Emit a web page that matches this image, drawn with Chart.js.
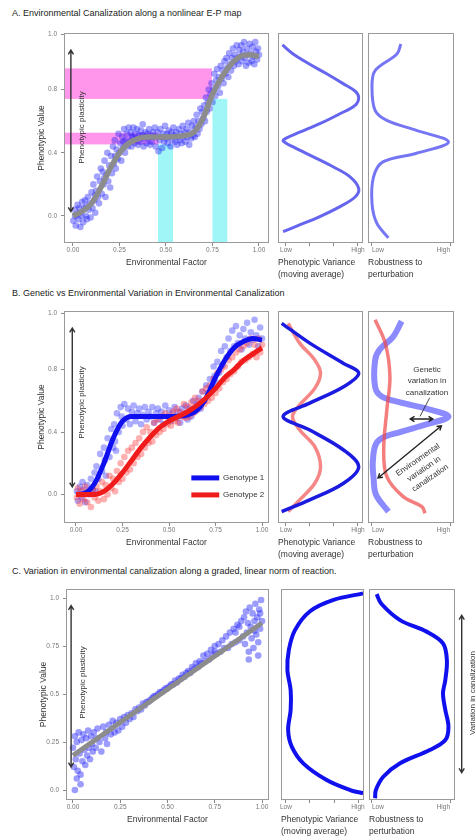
<!DOCTYPE html>
<html>
<head>
<meta charset="utf-8">
<script src="https://cdn.jsdelivr.net/npm/chart.js@4.4.1/dist/chart.umd.min.js"></script>
<style>
body { margin: 0; background: #fff; width: 476px; height: 837px; position: relative; overflow: hidden; font-family: "Liberation Sans", Arial, sans-serif; }
.ttl { position: absolute; left: 12px; font-size: 9px; line-height: 10px; color: #222; white-space: nowrap; }
canvas { position: absolute; }
</style>
</head>
<body>
<div class="ttl" style="top:8px">A. Environmental Canalization along a nonlinear E-P map</div>
<div class="ttl" style="top:288px">B. Genetic vs Environmental Variation in Environmental Canalization</div>
<div class="ttl" style="top:566px">C. Variation in environmental canalization along a graded, linear norm of reaction.</div>
<script>
// ---- data ----
const xTicksMain = [0, 0.25, 0.5, 0.75, 1];
const xLabelsMain = ['0.00', '0.25', '0.50', '0.75', '1.00'];
const yTicksA = [0, 0.4, 0.8, 1.15];
const yTicksB = [0, 0.4, 0.8, 1.163];
const yLabelsAB = ['0.0', '0.4', '0.8', '1.0'];
const yTicksC = [0, 0.25, 0.5, 0.75, 1];
const yLabelsC = ['0.0', '0.25', '0.5', '0.75', '1.0'];
const varTicks = [0, 1 / 3, 2 / 3, 1];
const varLabels = ['Low', '', '', 'High'];
const robTicks = [0, 1];
const robLabels = ['Low', 'High'];

// panel A
const curveA = [[0,0],[0.05,0.03],[0.1,0.08],[0.15,0.18],[0.2,0.3],[0.25,0.4],[0.3,0.46],[0.35,0.49],[0.4,0.5],[0.5,0.5],[0.6,0.51],[0.65,0.53],[0.7,0.62],[0.75,0.77],[0.8,0.88],[0.85,0.96],[0.9,1.01],[0.95,1.02],[1.0,1.01]];
const cloudA = [[0.002,-0.03],[0.01,0.04],[0.015,-0.06],[0.02,0.01],[0.025,0.07],[0.03,-0.02],[0.035,0.05],[0.04,-0.07],[0.045,0.0],[0.05,0.09],[0.012,0.0],[0.038,0.02],
 [0.055,-0.04],[0.06,0.05],[0.065,0.1],[0.07,0.0],[0.075,-0.02],[0.08,0.12],[0.085,0.04],[0.09,0.08],[0.095,-0.01],[0.1,0.15],[0.072,0.06],
 [0.105,0.05],[0.11,0.2],[0.115,0.1],[0.12,0.02],[0.125,0.16],[0.13,0.25],[0.135,0.12],[0.14,0.08],[0.145,0.22],[0.15,0.3],[0.118,0.13],
 [0.155,0.14],[0.16,0.28],[0.165,0.2],[0.17,0.35],[0.175,0.12],[0.18,0.26],[0.185,0.4],[0.19,0.22],[0.195,0.32],[0.2,0.18],[0.168,0.24],
 [0.205,0.38],[0.21,0.27],[0.215,0.44],[0.22,0.33],[0.225,0.48],[0.23,0.3],[0.235,0.42],[0.24,0.36],[0.245,0.52],[0.25,0.4],[0.228,0.38],
 [0.255,0.46],[0.26,0.35],[0.265,0.5],[0.27,0.43],[0.275,0.55],[0.28,0.4],[0.285,0.48],[0.29,0.52],[0.295,0.44],[0.3,0.56],[0.272,0.47],
 [0.305,0.47],[0.31,0.53],[0.315,0.44],[0.32,0.5],[0.325,0.56],[0.33,0.46],[0.335,0.52],[0.34,0.49],[0.345,0.55],[0.35,0.45],[0.318,0.5],
 [0.355,0.51],[0.36,0.47],[0.365,0.54],[0.37,0.49],[0.375,0.58],[0.38,0.44],[0.385,0.5],[0.39,0.53],[0.395,0.46],[0.4,0.52],[0.372,0.51],
 [0.405,0.49],[0.41,0.55],[0.415,0.45],[0.42,0.51],[0.425,0.47],[0.43,0.53],[0.435,0.5],[0.44,0.56],[0.445,0.44],[0.45,0.5],
 [0.455,0.53],[0.46,0.41],[0.465,0.48],[0.47,0.55],[0.475,0.5],[0.48,0.43],[0.485,0.52],[0.49,0.47],[0.495,0.57],[0.5,0.49],
 [0.505,0.52],[0.51,0.46],[0.515,0.54],[0.52,0.5],[0.525,0.44],[0.53,0.53],[0.535,0.48],[0.54,0.56],[0.545,0.51],[0.55,0.47],
 [0.555,0.53],[0.56,0.45],[0.565,0.5],[0.57,0.55],[0.575,0.48],[0.58,0.52],[0.585,0.46],[0.59,0.57],[0.595,0.5],[0.6,0.53],
 [0.605,0.47],[0.61,0.55],[0.615,0.5],[0.62,0.59],[0.625,0.45],[0.63,0.53],[0.635,0.49],[0.64,0.57],[0.645,0.51],[0.65,0.6],
 [0.655,0.5],[0.66,0.56],[0.665,0.64],[0.67,0.52],[0.675,0.6],[0.68,0.55],[0.685,0.68],[0.69,0.58],[0.695,0.66],[0.7,0.62],
 [0.705,0.7],[0.71,0.6],[0.715,0.75],[0.72,0.66],[0.725,0.72],[0.73,0.8],[0.735,0.68],[0.74,0.77],[0.745,0.84],[0.75,0.72],
 [0.755,0.8],[0.76,0.9],[0.765,0.76],[0.77,0.86],[0.775,0.93],[0.78,0.82],[0.785,0.88],[0.79,0.78],[0.795,0.95],[0.8,0.87],
 [0.805,0.92],[0.81,0.84],[0.815,0.98],[0.82,0.9],[0.825,1.0],[0.83,0.94],[0.835,0.88],[0.84,1.03],[0.845,0.96],[0.85,0.92],
 [0.855,1.0],[0.86,1.06],[0.865,0.95],[0.87,1.02],[0.875,0.98],[0.88,1.08],[0.885,1.0],[0.89,0.96],[0.895,1.05],[0.9,1.01],
 [0.905,1.08],[0.91,0.98],[0.915,1.04],[0.92,1.1],[0.925,1.0],[0.93,0.95],[0.935,1.06],[0.94,1.02],[0.945,0.97],[0.95,1.09],
 [0.955,1.03],[0.96,0.98],[0.965,1.07],[0.97,1.01],[0.975,0.96],[0.98,1.1],[0.985,1.04],[0.99,0.99],[0.995,1.06],[1.0,1.02]];
const varA = [[-0.05,1.083],[0.1,1.025],[0.33,0.96],[0.565,0.9],[0.8,0.836],[0.96,0.79],[1.01,0.75],[0.96,0.7],[0.75,0.647],[0.47,0.584],[0.19,0.53],[-0.01,0.49],[-0.04,0.474],[0.1,0.437],[0.38,0.374],[0.66,0.31],[0.89,0.248],[1.01,0.175],[0.96,0.12],[0.75,0.059],[0.47,-0.004],[0.19,-0.057],[-0.04,-0.099]];
const robA = [[0.37,1.088],[0.32,1.025],[0.04,0.92],[0.0,0.815],[0.04,0.668],[0.19,0.605],[0.57,0.542],[0.98,0.468],[0.57,0.397],[0.14,0.342],[0.02,0.248],[0.0,0.082],[0.06,-0.044],[0.21,-0.139]];
// shaded bands in panel A: [x from, x to, y from, y to]
const pinkBandsA = [[-0.05, 0.747, 0.741, 0.934], [-0.05, 0.46, 0.453, 0.527]];
const cyanBandsA = [[0.457, 0.538, -0.2, 0.453], [0.75, 0.83, -0.2, 0.741]];

// panel B
const curveB1 = [[0,0],[0.05,0.01],[0.1,0.07],[0.15,0.2],[0.2,0.36],[0.25,0.47],[0.3,0.5],[0.4,0.5],[0.5,0.5],[0.6,0.51],[0.65,0.54],[0.7,0.62],[0.75,0.75],[0.8,0.86],[0.85,0.94],[0.9,0.98],[0.95,1.0],[1.0,0.99]];
const curveB2 = [[0,0],[0.1,0.0],[0.15,0.02],[0.2,0.07],[0.25,0.14],[0.3,0.22],[0.35,0.3],[0.4,0.37],[0.45,0.43],[0.5,0.47],[0.55,0.5],[0.6,0.53],[0.65,0.57],[0.7,0.62],[0.75,0.68],[0.8,0.75],[0.85,0.8],[0.9,0.86],[0.95,0.9],[1.0,0.94]];
const cloudB1 = [[0.005,0.02],[0.01,-0.04],[0.02,0.05],[0.03,-0.02],[0.04,0.03],[0.05,-0.05],[0.06,0.06],[0.07,0.0],[0.08,0.1],[0.09,0.03],[0.1,0.14],[0.035,0.08],
 [0.105,0.02],[0.11,0.18],[0.12,0.1],[0.13,0.26],[0.14,0.15],[0.15,0.3],[0.16,0.12],[0.17,0.36],[0.18,0.24],[0.19,0.42],[0.2,0.3],[0.155,0.22],
 [0.205,0.45],[0.21,0.34],[0.22,0.52],[0.23,0.4],[0.24,0.56],[0.25,0.44],[0.26,0.58],[0.27,0.48],[0.28,0.55],[0.29,0.45],[0.3,0.53],[0.215,0.28],[0.245,0.5],
 [0.31,0.57],[0.32,0.47],[0.33,0.52],[0.34,0.55],[0.35,0.45],[0.36,0.51],[0.37,0.56],[0.38,0.48],[0.39,0.53],[0.4,0.5],
 [0.41,0.56],[0.42,0.46],[0.43,0.52],[0.44,0.55],[0.45,0.48],[0.46,0.53],[0.47,0.45],[0.48,0.57],[0.49,0.5],[0.5,0.54],
 [0.51,0.47],[0.52,0.52],[0.53,0.56],[0.54,0.49],[0.55,0.53],[0.56,0.46],[0.57,0.55],[0.58,0.5],[0.59,0.57],[0.6,0.48],
 [0.61,0.55],[0.62,0.5],[0.63,0.6],[0.64,0.53],[0.65,0.58],[0.66,0.62],[0.67,0.55],[0.68,0.66],[0.69,0.6],[0.7,0.7],
 [0.71,0.65],[0.72,0.74],[0.73,0.68],[0.74,0.82],[0.75,0.72],[0.76,0.85],[0.77,0.78],[0.78,0.92],[0.79,0.83],[0.8,0.95],[0.745,0.76],
 [0.81,0.88],[0.82,1.0],[0.83,0.92],[0.84,1.05],[0.85,0.95],[0.86,1.08],[0.87,0.97],[0.88,1.02],[0.89,0.93],[0.9,1.06],
 [0.91,1.0],[0.92,1.1],[0.93,0.96],[0.94,1.04],[0.95,0.99],[0.96,1.12],[0.97,1.02],[0.98,0.95],[0.99,1.07],[1.0,1.0]];
const cloudB2 = [[0.005,-0.02],[0.01,0.04],[0.02,-0.06],[0.03,0.02],[0.04,-0.03],[0.05,0.05],[0.06,-0.05],[0.07,0.01],[0.08,-0.08],[0.09,0.03],[0.1,-0.02],
 [0.11,0.05],[0.12,-0.04],[0.13,0.02],[0.14,0.08],[0.15,-0.03],[0.16,0.06],[0.17,0.0],[0.18,0.12],[0.19,0.04],[0.2,0.1],
 [0.21,0.02],[0.22,0.15],[0.23,0.08],[0.24,0.2],[0.25,0.1],[0.26,0.24],[0.27,0.14],[0.28,0.28],[0.29,0.16],[0.3,0.3],
 [0.31,0.2],[0.32,0.33],[0.33,0.24],[0.34,0.36],[0.35,0.26],[0.36,0.4],[0.37,0.3],[0.38,0.43],[0.39,0.33],[0.4,0.4],
 [0.41,0.34],[0.42,0.46],[0.43,0.38],[0.44,0.48],[0.45,0.4],[0.46,0.5],[0.47,0.42],[0.48,0.52],[0.49,0.45],[0.5,0.5],
 [0.51,0.44],[0.52,0.53],[0.53,0.47],[0.54,0.55],[0.55,0.46],[0.56,0.53],[0.57,0.5],[0.58,0.58],[0.59,0.49],[0.6,0.56],
 [0.61,0.5],[0.62,0.59],[0.63,0.52],[0.64,0.62],[0.65,0.54],[0.66,0.6],[0.67,0.56],[0.68,0.66],[0.69,0.58],[0.7,0.68],
 [0.71,0.6],[0.72,0.7],[0.73,0.62],[0.74,0.74],[0.75,0.65],[0.76,0.78],[0.77,0.68],[0.78,0.8],[0.79,0.72],[0.8,0.82],
 [0.81,0.74],[0.82,0.86],[0.83,0.77],[0.84,0.88],[0.85,0.79],[0.86,0.91],[0.87,0.82],[0.88,0.93],[0.89,0.85],[0.9,0.95],
 [0.91,0.86],[0.92,0.97],[0.93,0.88],[0.94,1.0],[0.95,0.9],[0.96,0.96],[0.97,0.88],[0.98,1.0],[0.99,0.91],[1.0,0.96]];
const varB1 = [[-0.06,1.097],[0.33,0.97],[0.8,0.84],[1.01,0.777],[0.8,0.69],[0.33,0.585],[-0.04,0.499],[0.33,0.413],[0.8,0.285],[1.01,0.178],[0.8,0.072],[0.33,-0.035],[-0.06,-0.11]];
const varB2 = [[0.03,1.097],[0.19,0.97],[0.4,0.862],[0.48,0.777],[0.4,0.68],[0.19,0.574],[0.09,0.499],[0.19,0.413],[0.4,0.306],[0.48,0.178],[0.4,0.072],[0.19,-0.035],[0.03,-0.11]];
const robB1 = [[0.38,1.11],[0.27,1.01],[0.1,0.93],[0.04,0.86],[0.04,0.69],[0.12,0.63],[0.36,0.59],[0.7,0.55],[0.98,0.5],[0.7,0.45],[0.36,0.4],[0.12,0.36],[0.04,0.31],[0.01,0.2],[0.02,0.11],[0.05,0.0],[0.21,-0.11]];
const robB2 = [[0.04,1.12],[0.17,0.97],[0.23,0.755],[0.19,0.54],[0.15,0.285],[0.19,0.114],[0.4,-0.014],[0.64,-0.078],[0.68,-0.12]];
const legendB = ['Genotype 1', 'Genotype 2'];

// panel C
const curveC = [[0, 0.18], [1, 0.87]];
const cloudC = [[0.0,0.22],[0.005,0.12],[0.01,0.28],[0.015,0.16],[0.02,0.25],[0.025,0.1],[0.03,0.3],[0.035,0.19],[0.04,0.08],[0.045,0.26],[0.05,0.15],[0.055,0.29],[0.06,0.21],[0.065,0.13],[0.07,0.27],[0.075,0.18],[0.08,0.31],[0.085,0.22],[0.09,0.16],[0.095,0.28],[0.1,0.24],[0.01,0.0],[0.04,0.03],[0.02,0.06],
 [0.105,0.2],[0.11,0.3],[0.12,0.22],[0.13,0.32],[0.14,0.25],[0.15,0.2],[0.16,0.33],[0.17,0.27],[0.18,0.24],[0.19,0.34],[0.2,0.29],[0.125,0.27],[0.175,0.3],
 [0.21,0.36],[0.22,0.3],[0.23,0.35],[0.24,0.31],[0.25,0.37],[0.26,0.33],[0.27,0.38],[0.28,0.35],[0.29,0.39],[0.3,0.37],
 [0.31,0.4],[0.32,0.38],[0.33,0.42],[0.34,0.41],[0.35,0.43],[0.36,0.42],[0.37,0.45],[0.38,0.44],[0.39,0.46],[0.4,0.46],
 [0.41,0.47],[0.42,0.48],[0.43,0.49],[0.44,0.49],[0.45,0.5],[0.46,0.51],[0.47,0.51],[0.48,0.52],[0.49,0.53],[0.5,0.53],
 [0.51,0.54],[0.52,0.55],[0.53,0.55],[0.54,0.57],[0.55,0.56],[0.56,0.58],[0.57,0.58],[0.58,0.6],[0.59,0.59],[0.6,0.61],
 [0.61,0.62],[0.62,0.61],[0.63,0.64],[0.64,0.63],[0.65,0.66],[0.66,0.64],[0.67,0.67],[0.68,0.66],[0.69,0.7],[0.7,0.67],
 [0.71,0.71],[0.72,0.68],[0.73,0.73],[0.74,0.7],[0.75,0.75],[0.76,0.71],[0.77,0.76],[0.78,0.72],[0.79,0.78],[0.8,0.74],[0.75,0.72],
 [0.81,0.8],[0.82,0.74],[0.83,0.82],[0.84,0.76],[0.85,0.84],[0.86,0.77],[0.87,0.86],[0.88,0.78],[0.89,0.88],[0.9,0.8],[0.86,0.82],[0.88,0.85],
 [0.905,0.9],[0.91,0.76],[0.915,0.93],[0.92,0.82],[0.925,0.87],[0.93,0.72],[0.935,0.95],[0.94,0.85],[0.945,0.79],[0.95,0.92],[0.955,0.74],[0.96,0.88],[0.965,0.97],[0.97,0.81],[0.975,0.9],[0.98,0.77],[0.985,0.94],[0.99,0.84],[0.995,0.99],[1.0,0.88],[0.93,0.68],[0.98,0.7],[0.96,0.83],[0.99,0.92]];
const varC = [[1.07,1.024],[0.66,0.99],[0.33,0.93],[0.125,0.833],[0.04,0.73],[0.02,0.625],[0.065,0.52],[0.065,0.417],[0.03,0.3125],[0.08,0.226],[0.24,0.139],[0.565,0.052],[0.89,0.0],[1.07,-0.017]];
const robC = [[0.06,1.02],[0.12,0.97],[0.36,0.885],[0.7,0.825],[0.91,0.764],[0.96,0.677],[0.94,0.573],[0.91,0.504],[0.94,0.417],[0.98,0.33],[0.94,0.26],[0.74,0.208],[0.36,0.139],[0.145,0.069],[0.05,0.0],[0.04,-0.043]];

// ---- helpers ----
Chart.defaults.font.family = "'Liberation Sans', Arial, sans-serif";
Chart.defaults.animation = false;

const pts = arr => arr.map(p => ({ x: p[0], y: p[1] }));

function makeCanvas(box, pad) {
  const c = document.createElement('canvas');
  const w = box.r - box.l + pad.l + pad.r;
  const h = box.b - box.t + pad.t + pad.b;
  c.width = w; c.height = h;
  c.style.left = (box.l - pad.l) + 'px';
  c.style.top = (box.t - pad.t) + 'px';
  c.style.width = w + 'px';
  c.style.height = h + 'px';
  document.body.appendChild(c);
  return c;
}

function arrow(ctx, x1, y1, x2, y2) {
  const a = Math.atan2(y2 - y1, x2 - x1), h = 5;
  ctx.beginPath();
  ctx.moveTo(x1, y1); ctx.lineTo(x2, y2);
  [[x2, y2, a], [x1, y1, a + Math.PI]].forEach(([px, py, ang]) => {
    ctx.moveTo(px - h * Math.cos(ang - 0.55), py - h * Math.sin(ang - 0.55));
    ctx.lineTo(px, py);
    ctx.lineTo(px - h * Math.cos(ang + 0.55), py - h * Math.sin(ang + 0.55));
  });
  ctx.stroke();
}

function rotText(ctx, lines, x, y, ang, size, lh) {
  ctx.save();
  ctx.translate(x, y);
  ctx.rotate(ang);
  ctx.fillStyle = '#333';
  ctx.font = size + "px 'Liberation Sans', Arial, sans-serif";
  ctx.textAlign = 'center';
  ctx.textBaseline = 'middle';
  lines.forEach((t, i) => ctx.fillText(t, 0, (i - (lines.length - 1) / 2) * lh));
  ctx.restore();
}

const frame = {
  id: 'frame',
  afterDraw(chart) {
    const { ctx, chartArea: a } = chart;
    ctx.save();
    ctx.strokeStyle = '#9a9a9a';
    ctx.lineWidth = 1;
    ctx.strokeRect(a.left + 0.5, a.top + 0.5, a.right - a.left - 1, a.bottom - a.top - 1);
    ctx.restore();
  }
};

function plasticity(yTop, yBot, xArrow, xText, yText) {
  return function (chart) {
    const { ctx, scales: { x, y } } = chart;
    ctx.save();
    ctx.strokeStyle = '#333';
    ctx.lineWidth = 1.4;
    const ax = x.getPixelForValue(xArrow);
    arrow(ctx, ax, y.getPixelForValue(yTop), ax, y.getPixelForValue(yBot));
    ctx.restore();
    rotText(ctx, ['Phenotypic plasticity'], x.getPixelForValue(xText), y.getPixelForValue(yText), -Math.PI / 2, 8, 10);
  };
}

function tickAxis(ticks, labels, min, max, extra) {
  return Object.assign({
    type: 'linear', min: min, max: max,
    afterBuildTicks: s => { s.ticks = ticks.map(v => ({ value: v })); },
    ticks: { callback: (v, i) => labels[i], font: { size: 6.5 }, color: '#777', maxRotation: 0, autoSkip: false },
    grid: { drawOnChartArea: false, drawTicks: true, tickLength: 3, color: '#8a8a8a' },
    border: { display: false }
  }, extra);
}

function mainChart(box, xr, yr, yTicks, yLabels, datasets, drawFn, beforeFn) {
  const cv = makeCanvas(box, { l: 50, r: 8, t: 8, b: 34 });
  const xs = tickAxis(xTicksMain, xLabelsMain, xr[0], xr[1], {
    title: { display: true, text: 'Environmental Factor', color: '#333', font: { size: 8.5 }, padding: { top: 0, bottom: 9 } },
    afterFit: s => { s.height = 34; }
  });
  xs.ticks.padding = 0;
  const ys = tickAxis(yTicks, yLabels, yr[0], yr[1], {
    title: { display: true, text: 'Phenotypic Value', color: '#333', font: { size: 8.5 }, padding: { top: 23, bottom: 0 } },
    afterFit: s => { s.width = 50; }
  });
  ys.ticks.padding = 4;
  return new Chart(cv, {
    type: 'scatter',
    data: { datasets: datasets },
    options: {
      responsive: false,
      layout: { padding: { left: 0, top: 8, right: 8, bottom: 0 } },
      plugins: { legend: { display: false }, tooltip: { enabled: false } },
      scales: { x: xs, y: ys }
    },
    plugins: [frame, { id: 'deco', beforeDatasetsDraw: beforeFn || (() => {}), afterDatasetsDraw: drawFn }]
  });
}

function sideChart(box, xr, yr, ticks, labels, title, datasets, drawFn, padR) {
  const cv = makeCanvas(box, { l: 12, r: padR || 12, t: 8, b: 40 });
  const xs = tickAxis(ticks, labels, xr[0], xr[1], {
    title: { display: true, text: title, align: 'start', color: '#333', font: { size: 8.5, lineHeight: 1.4 }, padding: { top: 0, bottom: 2 } },
    afterFit: s => { s.height = 40; }
  });
  xs.ticks.padding = 0;
  // the robustness panels keep their end labels inside the frame
  if (ticks.length === 2) xs.ticks.align = 'inner';
  return new Chart(cv, {
    type: 'scatter',
    data: { datasets: datasets },
    options: {
      responsive: false,
      layout: { padding: { left: 12, top: 8, right: padR || 12, bottom: 0 } },
      plugins: { legend: { display: false }, tooltip: { enabled: false } },
      scales: { x: xs, y: { type: 'linear', display: false, min: yr[0], max: yr[1] } }
    },
    plugins: [frame, { id: 'deco', afterDraw: drawFn || (() => {}) }]
  });
}

function cloud(data, color) {
  return { data: pts(data), pointRadius: 3.3, pointBorderWidth: 0, backgroundColor: color, showLine: false };
}
function curve(data, color, width, tension, mono) {
  return { data: pts(data), showLine: true, borderColor: color, borderWidth: width, pointRadius: 0,
    tension: tension, cubicInterpolationMode: mono ? 'monotone' : 'default', fill: false };
}

function bands(list, color) {
  return function (chart) {
    const { ctx, scales: { x, y }, chartArea: a } = chart;
    ctx.save();
    ctx.fillStyle = color;
    list.forEach(b => {
      const x0 = Math.max(x.getPixelForValue(b[0]), a.left), x1 = x.getPixelForValue(b[1]);
      const y0 = Math.min(y.getPixelForValue(b[2]), a.bottom), y1 = y.getPixelForValue(b[3]);
      ctx.fillRect(x0, y1, x1 - x0, y0 - y1);
    });
    ctx.restore();
  };
}

// ---- panel A ----
const boxA = { l: 64, r: 269, t: 33, b: 243 };
const yrA = [-0.171, 1.158];
const pinkFill = bands(pinkBandsA, 'rgb(255,150,236)');
const cyanFill = bands(cyanBandsA, 'rgb(160,246,246)');
mainChart(boxA, [-0.048, 1.054], yrA, yTicksA, yLabelsAB,
  [curve(curveA, '#8c8c8c', 5.5, 0.4, true), cloud(cloudA, 'rgba(35,35,250,0.42)')],
  plasticity(1.05, 0.027, -0.011, 0.048, 0.56),
  chart => { pinkFill(chart); cyanFill(chart); });
sideChart({ l: 278, r: 363, t: 33, b: 243 }, [-0.111, 1.07], yrA, varTicks, varLabels,
  ['Phenotypic Variance', '(moving average)'], [curve(varA, 'rgba(50,50,235,0.75)', 3, 0.35)]);
sideChart({ l: 368, r: 454, t: 33, b: 243 }, [-0.051, 1.051], yrA, robTicks, robLabels,
  ['Robustness to', 'perturbation'], [curve(robA, 'rgba(60,60,240,0.7)', 3, 0.35)]);

// ---- panel B ----
const boxB = { l: 64, r: 269, t: 311, b: 523 };
const yrB = [-0.183, 1.176];
mainChart(boxB, [-0.0645, 1.0376], yrB, yTicksB, yLabelsAB,
  [curve(curveB2, '#f01c1c', 5, 0.4, true), curve(curveB1, '#0f0ff0', 5, 0.4, true),
   cloud(cloudB2, 'rgba(255,40,40,0.36)'), cloud(cloudB1, 'rgba(40,40,255,0.38)')],
  function (chart) {
    plasticity(1.067, 0.048, -0.02, 0.032, 0.59)(chart);
    const { ctx, scales: { x, y } } = chart;
    const colors = ['#0f0ff0', '#f01c1c'];
    const ys = [0.106, -0.003];
    ctx.save();
    ctx.lineWidth = 5;
    ctx.font = "8px 'Liberation Sans', Arial, sans-serif";
    ctx.textBaseline = 'middle';
    ctx.fillStyle = '#333';
    legendB.forEach((t, i) => {
      const py = y.getPixelForValue(ys[i]);
      ctx.strokeStyle = colors[i];
      ctx.beginPath();
      ctx.moveTo(x.getPixelForValue(0.62), py);
      ctx.lineTo(x.getPixelForValue(0.77), py);
      ctx.stroke();
      ctx.fillText(t, x.getPixelForValue(0.79), py);
    });
    ctx.restore();
  });
sideChart({ l: 278, r: 363, t: 311, b: 523 }, [-0.111, 1.07], yrB, varTicks, varLabels,
  ['Phenotypic Variance', '(moving average)'],
  [curve(varB1, '#1a1ae0', 3.5, 0.35), curve(varB2, 'rgba(240,70,70,0.65)', 3.5, 0.35)]);
sideChart({ l: 368, r: 454, t: 311, b: 523 }, [-0.051, 1.051], yrB, robTicks, robLabels,
  ['Robustness to', 'perturbation'],
  [curve(robB2, 'rgba(240,70,70,0.7)', 3.5, 0.35), curve(robB1, 'rgba(90,90,255,0.7)', 6, 0.35)],
  function (chart) {
    const { ctx, scales: { x, y } } = chart;
    ctx.save();
    ctx.strokeStyle = '#222';
    ctx.lineWidth = 1.4;
    arrow(ctx, x.getPixelForValue(0.49), y.getPixelForValue(0.484), x.getPixelForValue(0.78), y.getPixelForValue(0.484));
    arrow(ctx, x.getPixelForValue(0.077), y.getPixelForValue(0.106), x.getPixelForValue(0.89), y.getPixelForValue(0.44));
    ctx.lineWidth = 0.8;
    ctx.beginPath();
    ctx.moveTo(x.getPixelForValue(0.74), y.getPixelForValue(0.62));
    ctx.lineTo(x.getPixelForValue(0.615), y.getPixelForValue(0.5));
    ctx.stroke();
    ctx.restore();
    rotText(ctx, ['Genetic', 'variation in', 'canalization'], x.getPixelForValue(0.705), y.getPixelForValue(0.728), 0, 8, 11.5);
    rotText(ctx, ['Environmental', 'variation in', 'canalization'], x.getPixelForValue(0.667), y.getPixelForValue(0.163), -0.6, 8, 11);
  });

// ---- panel C ----
const boxC = { l: 66, r: 269, t: 589, b: 800 };
const yrC = [-0.052, 1.047];
mainChart(boxC, [-0.037, 1.037], yrC, yTicksC, yLabelsC,
  [curve(curveC, '#8c8c8c', 5, 0), cloud(cloudC, 'rgba(35,35,250,0.45)')],
  plasticity(0.96, 0.12, -0.01, 0.053, 0.56));
sideChart({ l: 281, r: 364, t: 589, b: 800 }, [-0.069, 1.083], yrC, varTicks, varLabels,
  ['Phenotypic Variance', '(moving average)'], [curve(varC, '#1010ee', 4, 0.35)]);
sideChart({ l: 369, r: 455, t: 589, b: 800 }, [-0.038, 1.064], yrC, robTicks, robLabels,
  ['Robustness to', 'perturbation'], [curve(robC, '#1010ee', 4, 0.35)],
  function (chart) {
    const { ctx, scales: { x, y } } = chart;
    ctx.save();
    ctx.strokeStyle = '#333';
    ctx.lineWidth = 1.4;
    const ax = x.getPixelForValue(1.15);
    arrow(ctx, ax, y.getPixelForValue(0.91), ax, y.getPixelForValue(0.09));
    ctx.restore();
    rotText(ctx, ['Variation in canalization'], x.getPixelForValue(1.29), y.getPixelForValue(0.505), -Math.PI / 2, 8, 10);
  }, 21);
</script>
</body>
</html>
